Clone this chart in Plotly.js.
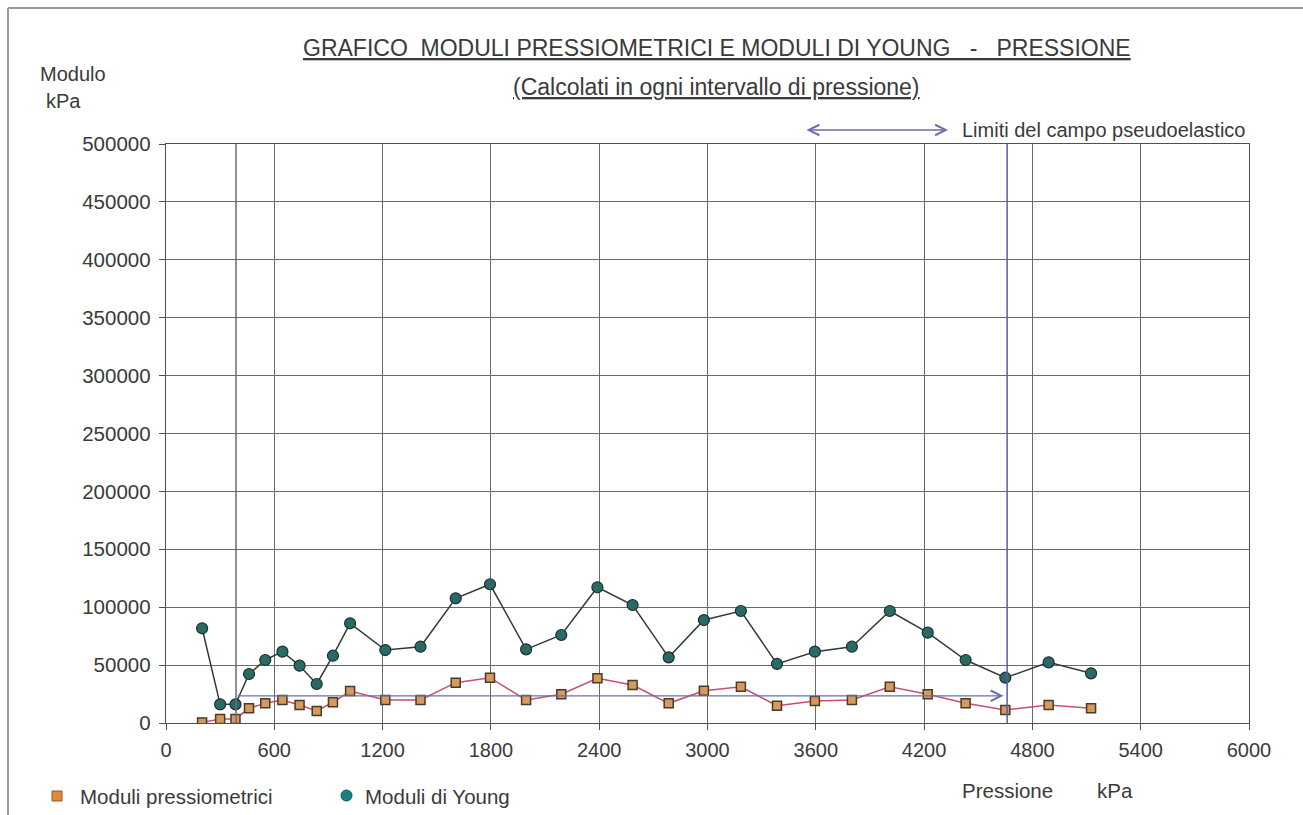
<!DOCTYPE html>
<html>
<head>
<meta charset="utf-8">
<script src="https://cdn.plot.ly/plotly-3.0.1.min.js"></script>
<style>html,body{margin:0;padding:0;background:#fff;}#chart{width:1303px;height:815px;}</style>
</head>
<body>
<div id="chart"></div>
<script>
// ---- data ----
const pressione = [200, 300, 385, 460, 550, 645, 740, 835, 925, 1020, 1215, 1410, 1605, 1795, 1995, 2190, 2390, 2585, 2785, 2980, 3185, 3385, 3595, 3800, 4010, 4220, 4430, 4650, 4890, 5125];
const moduliYoung = [81800, 16100, 16100, 42300, 54400, 61600, 49500, 33700, 58100, 86100, 63000, 65900, 107700, 119800, 63600, 76000, 117200, 101900, 56700, 88900, 96700, 51000, 61600, 65900, 96700, 78000, 54400, 39100, 52400, 42900];
const moduliPressiometrici = [500, 3500, 3500, 12700, 17000, 19900, 15500, 10400, 17900, 27600, 19900, 19900, 34800, 39100, 19900, 24800, 38600, 32800, 17000, 27900, 31300, 14900, 19000, 19900, 31300, 24800, 17000, 11200, 15500, 12700];
const limitiPseudoelastici = [388, 4660];
const livelloFreccia = 23500;
const xTicks = [0, 600, 1200, 1800, 2400, 3000, 3600, 4200, 4800, 5400, 6000];
const yTicks = [0, 50000, 100000, 150000, 200000, 250000, 300000, 350000, 400000, 450000, 500000];

const L = 166, T = 144, W = 1083, H = 579;
const PX = p => (p - L) / W;
const PY = p => (T + H - p) / H;
const FONT = 'Liberation Sans, Arial, sans-serif';
const TXT = '#3a3a3a';

const traces = [
  {
    x: pressione, y: moduliPressiometrici, type: 'scatter', mode: 'lines+markers',
    name: 'Moduli pressiometrici', showlegend: false,
    line: {color: '#c8506a', width: 1.5},
    marker: {symbol: 'square', size: 9, color: '#d69a5c', line: {color: '#4a3a2a', width: 1.5}}
  },
  {
    x: pressione, y: moduliYoung, type: 'scatter', mode: 'lines+markers',
    name: 'Moduli di Young', showlegend: false,
    line: {color: '#2f3a3a', width: 1.5},
    marker: {symbol: 'circle', size: 11, color: '#2a6a66', line: {color: '#1e2e2e', width: 1.2}}
  }
];

const shapes = [
  // outer frame
  {type: 'line', xref: 'paper', yref: 'paper', x0: PX(8), x1: PX(8), y0: PY(8), y1: PY(815), line: {color: '#9a9a9a', width: 2}},
  {type: 'line', xref: 'paper', yref: 'paper', x0: PX(8), x1: PX(1303), y0: PY(8), y1: PY(8), line: {color: '#9a9a9a', width: 2}},
  // pseudoelastic limits
  {type: 'line', xref: 'x', yref: 'y', x0: limitiPseudoelastici[0], x1: limitiPseudoelastici[0], y0: 0, y1: 500000, line: {color: '#6a6a7a', width: 1.5}},
  {type: 'line', xref: 'x', yref: 'y', x0: limitiPseudoelastici[1], x1: limitiPseudoelastici[1], y0: 0, y1: 500000, line: {color: '#5a5aa8', width: 1.5}},
  // legend symbols
  {type: 'rect', xref: 'paper', yref: 'paper', x0: PX(52), x1: PX(62), y0: PY(801), y1: PY(791), fillcolor: '#e08a3c', line: {color: '#8a5a2a', width: 1}},
  {type: 'circle', xref: 'paper', yref: 'paper', x0: PX(341), x1: PX(352), y0: PY(801), y1: PY(790), fillcolor: '#17807e', line: {color: '#0e5a58', width: 1}}
];

const annotations = [
  {xref: 'paper', yref: 'paper', x: PX(717), y: PY(48), xanchor: 'center', yanchor: 'middle', showarrow: false,
   text: '<u>GRAFICO  MODULI PRESSIOMETRICI E MODULI DI YOUNG   -   PRESSIONE</u>', font: {family: FONT, size: 23, color: TXT}},
  {xref: 'paper', yref: 'paper', x: PX(716), y: PY(87), xanchor: 'center', yanchor: 'middle', showarrow: false,
   text: '<u>(Calcolati in ogni intervallo di pressione)</u>', font: {family: FONT, size: 23, color: TXT}},
  {xref: 'paper', yref: 'paper', x: PX(38), y: PY(74), xanchor: 'left', yanchor: 'middle', showarrow: false,
   text: 'Modulo', font: {family: FONT, size: 20, color: TXT}},
  {xref: 'paper', yref: 'paper', x: PX(44), y: PY(101), xanchor: 'left', yanchor: 'middle', showarrow: false,
   text: 'kPa', font: {family: FONT, size: 20, color: TXT}},
  {xref: 'paper', yref: 'paper', x: PX(960), y: PY(130), xanchor: 'left', yanchor: 'middle', showarrow: false,
   text: 'Limiti del campo pseudoelastico', font: {family: FONT, size: 20, color: TXT}},
  // double arrow of the key
  {xref: 'paper', yref: 'paper', axref: 'pixel', ayref: 'pixel', x: PX(948), y: PY(130), ax: -143, ay: 0,
   showarrow: true, arrowside: 'end+start', arrowhead: 5, startarrowhead: 5, arrowsize: 1.6, startarrowsize: 1.6, arrowwidth: 1.3, arrowcolor: '#6c6cb0', text: ''},
  // horizontal arrow between the limits
  {xref: 'x', yref: 'y', axref: 'x', ayref: 'y', x: limitiPseudoelastici[1] - 20, y: livelloFreccia, ax: limitiPseudoelastici[0], ay: livelloFreccia,
   showarrow: true, arrowhead: 5, arrowsize: 1.6, arrowwidth: 1.3, arrowcolor: '#6c6cb0', text: ''},
  // legend texts
  {xref: 'paper', yref: 'paper', x: PX(78), y: PY(796), xanchor: 'left', yanchor: 'middle', showarrow: false,
   text: 'Moduli pressiometrici', font: {family: FONT, size: 20.5, color: TXT}},
  {xref: 'paper', yref: 'paper', x: PX(363), y: PY(796), xanchor: 'left', yanchor: 'middle', showarrow: false,
   text: 'Moduli di Young', font: {family: FONT, size: 20.5, color: TXT}},
  {xref: 'paper', yref: 'paper', x: PX(960), y: PY(791), xanchor: 'left', yanchor: 'middle', showarrow: false,
   text: 'Pressione', font: {family: FONT, size: 20.5, color: TXT}},
  {xref: 'paper', yref: 'paper', x: PX(1095), y: PY(791), xanchor: 'left', yanchor: 'middle', showarrow: false,
   text: 'kPa', font: {family: FONT, size: 20.5, color: TXT}}
];

const layout = {
  width: 1303, height: 815,
  margin: {l: L, r: 1303 - L - W, t: T, b: 815 - T - H, pad: 0},
  paper_bgcolor: '#ffffff', plot_bgcolor: '#ffffff',
  showlegend: false,
  font: {family: FONT, color: TXT},
  xaxis: {
    range: [0, 6000], tickvals: xTicks, ticktext: xTicks.map(String),
    showgrid: true, gridcolor: '#6a6a6a', gridwidth: 1,
    showline: true, linecolor: '#505050', linewidth: 1.3, mirror: true,
    zeroline: false, ticks: 'outside', ticklen: 6, tickcolor: '#505050',
    ticklabelstandoff: 3,
    tickfont: {family: FONT, size: 20, color: TXT}
  },
  yaxis: {
    range: [0, 500000], tickvals: yTicks, ticktext: yTicks.map(String),
    showgrid: true, gridcolor: '#6a6a6a', gridwidth: 1,
    showline: true, linecolor: '#505050', linewidth: 1.3, mirror: true,
    zeroline: false, ticks: 'outside', ticklen: 6, tickcolor: '#505050',
    ticklabelstandoff: 4,
    tickfont: {family: FONT, size: 20.5, color: TXT}
  },
  shapes: shapes,
  annotations: annotations
};

Plotly.newPlot('chart', traces, layout, {staticPlot: true, displayModeBar: false});
</script>
</body>
</html>
